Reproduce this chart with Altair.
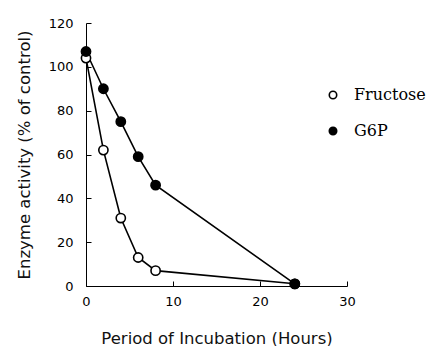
import altair as alt
import pandas as pd

hours = [0, 2, 4, 6, 8, 24]
fructose = [104, 62, 31, 13, 7, 1]
g6p = [107, 90, 75, 59, 46, 1]
series_names = ["Fructose", "G6P"]
x_ticks = [0, 10, 20, 30]
y_ticks = [0, 20, 40, 60, 80, 100, 120]

rows = []
for name, vals in zip(series_names, [fructose, g6p]):
    for h, v in zip(hours, vals):
        rows.append({"hours": h, "activity": v, "series": name})
df = pd.DataFrame(rows)

SANS = "DejaVu Sans"
SERIF = "DejaVu Serif"

x_scale = alt.Scale(domain=[0, 30], nice=False, zero=False)
y_scale = alt.Scale(domain=[0, 120], nice=False)

x_main = alt.X(
    "hours:Q", scale=x_scale,
    axis=alt.Axis(orient="bottom", values=x_ticks, title="Period of Incubation (Hours)", grid=False,
                  tickSize=0, domainColor="black", domainWidth=1,
                  labelFont=SANS, labelFontSize=13, labelColor="black", labelPadding=9,
                  titleFont=SANS, titleFontSize=16.5, titleFontWeight="normal",
                  titleColor="#111", titlePadding=22, labelFlush=False),
)
y_main = alt.Y(
    "activity:Q", scale=y_scale,
    axis=alt.Axis(orient="left", values=y_ticks, title="Enzyme activity (% of control)", grid=False,
                  tickSize=0, domainColor="black", domainWidth=1,
                  labelFont=SANS, labelFontSize=13, labelColor="black", labelPadding=13,
                  titleFont=SANS, titleFontSize=16.5, titleFontWeight="normal",
                  titleColor="#111", titlePadding=16, labelFlush=False),
)

base = alt.Chart(df)

lines = base.mark_line(color="black", strokeWidth=1.6).encode(
    x=x_main, y=y_main, detail="series:N"
)
points = base.mark_point(filled=True, size=85, stroke="black", strokeWidth=1.6, opacity=1).encode(
    x=alt.X("hours:Q", scale=x_scale, axis=None),
    y=alt.Y("activity:Q", scale=y_scale, axis=None),
    fill=alt.Fill(
        "series:N",
        scale=alt.Scale(domain=series_names, range=["white", "black"]),
        legend=alt.Legend(title=None, orient="none", legendX=239, legendY=64,
                          symbolType="circle", symbolSize=55, symbolStrokeColor="black",
                          symbolStrokeWidth=1.6, labelFont=SERIF, labelFontSize=16,
                          labelColor="black", labelOffset=13, rowPadding=20),
    ),
)

ticks = base.mark_line(opacity=0).encode(
    x=alt.X("hours:Q", scale=x_scale,
            axis=alt.Axis(orient="bottom", offset=-5, values=x_ticks, labels=False,
                          domain=False, title=None, grid=False, tickSize=5,
                          tickColor="black", tickWidth=1)),
    y=alt.Y("activity:Q", scale=y_scale,
            axis=alt.Axis(orient="left", offset=-5, values=y_ticks, labels=False,
                          domain=False, title=None, grid=False, tickSize=5,
                          tickColor="black", tickWidth=1)),
    detail="series:N",
)

chart = alt.layer(ticks, lines, points).resolve_axis(x="independent", y="independent").properties(
    width=261, height=263,
    autosize=alt.AutoSizeParams(type="none"),
    padding={"left": 86, "top": 23, "right": 81, "bottom": 60},
    background="white",
).configure_view(stroke=None)

chart.save("out.html", embed_options={"renderer": "svg", "actions": False})
